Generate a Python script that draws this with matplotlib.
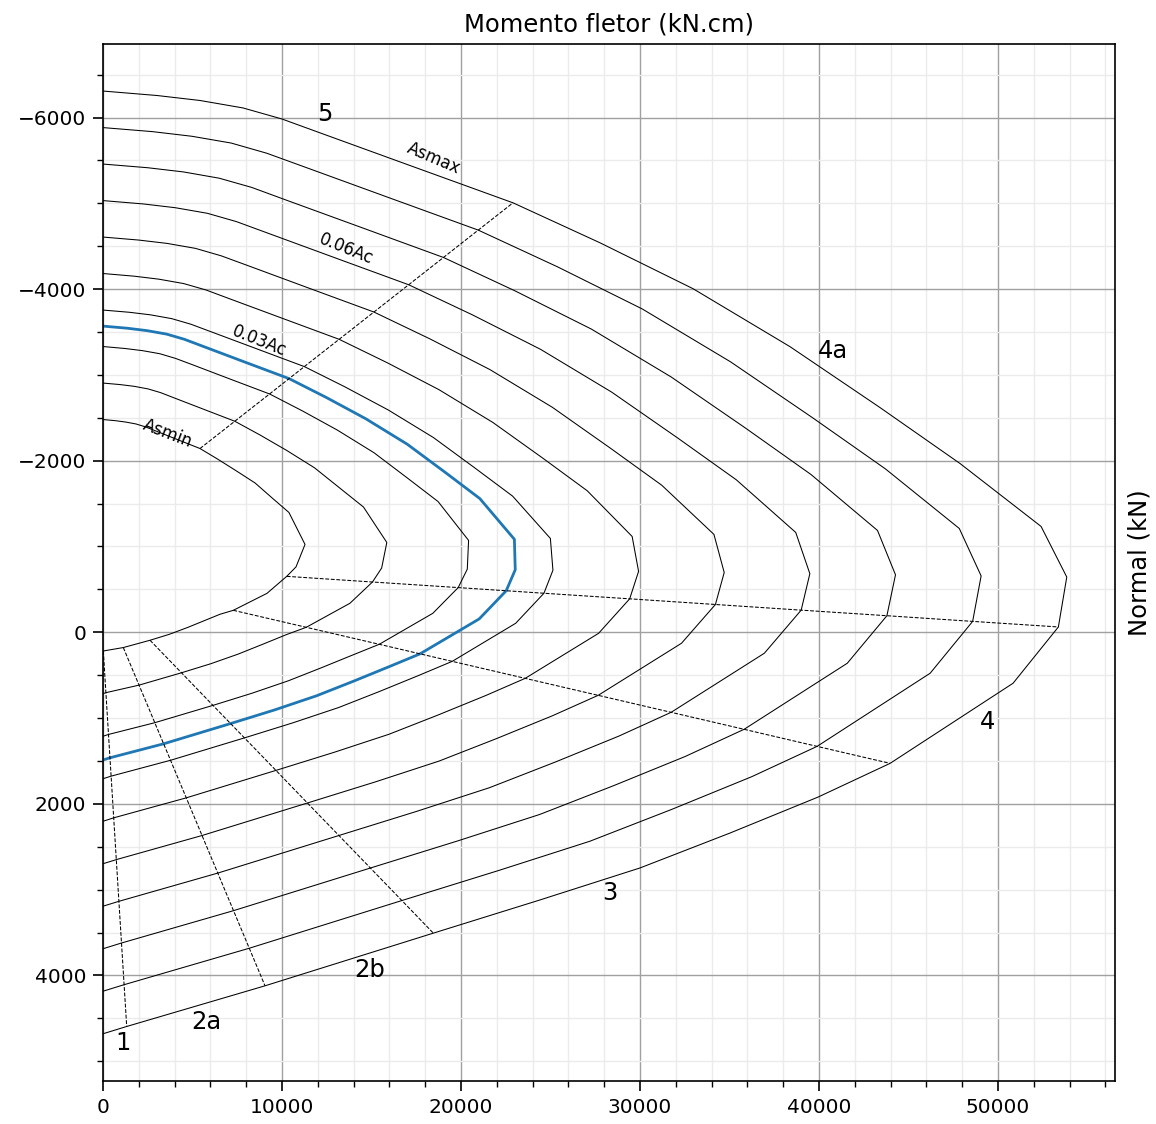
import matplotlib.pyplot as plt
from matplotlib.ticker import MultipleLocator


# curvas de interação (momento em kN.cm, normal em kN), lidas do gráfico
# pontos: topo, domínio 5 (6), limite 5/4a, 4a (5), vértice, bico, limite 4a/4,
#         4, limite 4/3, 3 (4), limite 3/2b, limite 2b/2a, limite 2a/1, fim
M_0 = [0, 715, 1285, 1849, 2363, 2911, 4162, 5419, 6385, 7413, 8497, 9469, 10385,
       11285, 10782, 10263, 9162, 7279, 6536, 5654, 4749, 3715, 2626, 1134, 17, 0]
N_0 = [-2480, -2466, -2450, -2428, -2395, -2350, -2246, -2142, -2021, -1886, -1740, -1562, -1397,
       -1024, -762, -652, -454, -256, -210, -135, -58, 23, 93, 178, 218, 221]

M_1 = [0, 971, 1744, 2513, 3212, 3953, 5655, 7362, 8761, 10252, 11817, 13240, 14551,
       15854, 15566, 15053, 13793, 11355, 10248, 8918, 7555, 6015, 4385, 2014, 162, 0]
N_1 = [-2905, -2887, -2867, -2837, -2794, -2734, -2597, -2460, -2301, -2121, -1917, -1679, -1460,
       -1047, -749, -586, -338, -58, 27, 140, 254, 367, 472, 616, 704, 716]

M_2 = [0, 1227, 2204, 3176, 4060, 4995, 7148, 9305, 11136, 13090, 15138, 17011, 18717,
       20422, 20350, 19842, 18423, 15432, 13960, 12182, 10360, 8315, 6143, 2893, 307, 0]
N_2 = [-3331, -3308, -3283, -3247, -3192, -3119, -2948, -2778, -2581, -2357, -2093, -1797, -1524,
       -1071, -736, -521, -221, 140, 264, 415, 565, 711, 852, 1054, 1191, 1212]

M_3 = [0, 1482, 2663, 3840, 4909, 6038, 8641, 11248, 13512, 15929, 18458, 20782, 22882,
       24991, 25134, 24632, 23054, 19508, 17672, 15445, 13166, 10614, 7902, 3773, 453, 0]
N_3 = [-3756, -3730, -3700, -3656, -3591, -3503, -3300, -3097, -2861, -2592, -2270, -1914, -1587,
       -1094, -723, -455, -105, 339, 500, 690, 877, 1055, 1231, 1492, 1677, 1707]

M_4 = [0, 1738, 3122, 4503, 5757, 7080, 10134, 13191, 15887, 18768, 21778, 24553, 27048,
       29559, 29918, 29421, 27685, 23585, 21384, 18709, 15972, 12914, 9660, 4652, 598, 0]
N_4 = [-4182, -4151, -4116, -4065, -3990, -3887, -3651, -3415, -3141, -2828, -2446, -2032, -1650,
       -1117, -710, -390, 12, 537, 737, 965, 1189, 1399, 1610, 1930, 2163, 2203]

M_5 = [0, 1994, 3582, 5167, 6606, 8122, 11626, 15134, 18263, 21607, 25099, 28324, 31214,
       34128, 34702, 34211, 32316, 27661, 25096, 21973, 18778, 15214, 11419, 5532, 743, 0]
N_5 = [-4607, -4572, -4533, -4475, -4388, -4272, -4002, -3733, -3420, -3063, -2623, -2149, -1714,
       -1141, -697, -324, 128, 735, 974, 1240, 1501, 1744, 1990, 2369, 2650, 2698]

M_6 = [0, 2250, 4041, 5830, 7454, 9164, 13119, 17076, 20638, 24445, 28419, 32095, 35380,
       38697, 39486, 39001, 36946, 31737, 28808, 25237, 21583, 17514, 13178, 6412, 888, 0]
N_6 = [-5032, -4993, -4949, -4884, -4787, -4656, -4353, -4051, -3700, -3298, -2799, -2266, -1777,
       -1164, -683, -258, 244, 933, 1211, 1515, 1812, 2088, 2369, 2807, 3136, 3193]

M_7 = [0, 2505, 4500, 6494, 8303, 10207, 14612, 19019, 23014, 27284, 31739, 35866, 39545,
       43265, 44270, 43790, 41577, 35814, 32520, 28500, 24389, 19813, 14936, 7291, 1033, 0]
N_7 = [-5458, -5415, -5366, -5293, -5186, -5040, -4705, -4369, -3980, -3534, -2976, -2384, -1840,
       -1187, -670, -193, 361, 1131, 1448, 1790, 2124, 2432, 2748, 3245, 3622, 3689]

M_8 = [0, 2761, 4960, 7157, 9151, 11249, 16105, 20962, 25389, 30123, 35060, 39637, 43711,
       47834, 49054, 48580, 46208, 39890, 36232, 31764, 27195, 22113, 16695, 8171, 1179, 0]
N_8 = [-5883, -5836, -5782, -5703, -5584, -5425, -5056, -4688, -4260, -3769, -3152, -2501, -1904,
       -1210, -657, -127, 477, 1330, 1684, 2065, 2436, 2776, 3127, 3683, 4108, 4184]

M_9 = [0, 3017, 5419, 7821, 10000, 12291, 17598, 22905, 27765, 32961, 38380, 43408, 47877,
       52402, 53838, 53369, 50838, 43967, 39944, 35028, 30000, 24413, 18453, 9050, 1324, 0]
N_9 = [-6309, -6257, -6199, -6112, -5983, -5809, -5407, -5006, -4540, -4005, -3329, -2619, -1967,
       -1234, -644, -62, 594, 1528, 1921, 2340, 2747, 3120, 3507, 4121, 4595, 4680]

# curva da seção calculada (azul)
M_sec = [0, 1370, 2461, 3548, 4535, 5579, 7984, 10393, 12466, 14680, 16997, 19123, 21049,
         22981, 23029, 22524, 21017, 17715, 16039, 14009, 11932, 9602, 7128, 3386, 389, 0]
N_sec = [-3569, -3544, -3516, -3476, -3416, -3334, -3145, -2957, -2738, -2489, -2192, -1863, -1559,
         -1084, -729, -484, -156, 251, 396, 569, 740, 904, 1064, 1300, 1463, 1489]

# índices dos pontos de mudança de domínio (5/4a, 4a/4, 4/3, 3/2b, 2b/2a, 2a/1)
limites = [7, 15, 17, 22, 23, 24]

# rótulos dos domínios
dominios = ['5', '4a', '4', '3', '2b', '2a', '1']
dom_x = [12400, 40800, 49400, 28300, 14900, 5800, 1100]
dom_y = [-6040, -3280, 1050, 3040, 3940, 4540, 4790]

# rótulos das taxas de armadura
taxas = ['Asmax', '0.06Ac', '0.03Ac', 'Asmin']
taxa_x = [18500, 13600, 8700, 3600]
taxa_y = [-5520, -4470, -3400, -2320]
taxa_rot = [-23, -22, -22, -21]

curvas = [(M_0, N_0), (M_1, N_1), (M_2, N_2), (M_3, N_3), (M_4, N_4),
          (M_5, N_5), (M_6, N_6), (M_7, N_7), (M_8, N_8), (M_9, N_9)]

fig = plt.figure(figsize=(11.56, 11.24), dpi=100)
ax = fig.add_axes([0.0891, 0.0383, 0.8754, 0.9226])

for m, n in curvas:
    ax.plot(m, n, color='k', lw=0.75)
ax.plot(M_sec, N_sec, color='tab:blue', lw=2.0)

# linhas tracejadas entre domínios
for i in limites:
    ax.plot([c[0][i] for c in curvas], [c[1][i] for c in curvas], 'k--', lw=0.75)

for t, x, y in zip(dominios, dom_x, dom_y):
    ax.text(x, y, t, fontsize=17.5, ha='center', va='center')
for t, x, y, r in zip(taxas, taxa_x, taxa_y, taxa_rot):
    ax.text(x, y, t, fontsize=12, rotation=r, rotation_mode='anchor',
            ha='center', va='center')

ax.set_xlim(0, 56530)
ax.set_ylim(5230, -6858)

ax.xaxis.set_major_locator(MultipleLocator(10000))
ax.xaxis.set_minor_locator(MultipleLocator(2000))
ax.yaxis.set_major_locator(MultipleLocator(2000))
ax.yaxis.set_minor_locator(MultipleLocator(500))

ax.grid(which='major', color='#a0a0a0', lw=1.0)
ax.grid(which='minor', color='#ebebeb', lw=1.0)
ax.set_axisbelow(True)

ax.tick_params(which='major', length=7, width=1.2, labelsize=14.5, pad=5)
ax.tick_params(which='minor', length=4, width=1.0)
for s in ax.spines.values():
    s.set_linewidth(1.2)

ax.set_title('Momento fletor (kN.cm)', fontsize=17.5, pad=9)
ax.yaxis.set_label_position('right')
ax.set_ylabel('Normal (kN)', fontsize=17.5, labelpad=9)

fig.savefig('out.png', dpi=100)
